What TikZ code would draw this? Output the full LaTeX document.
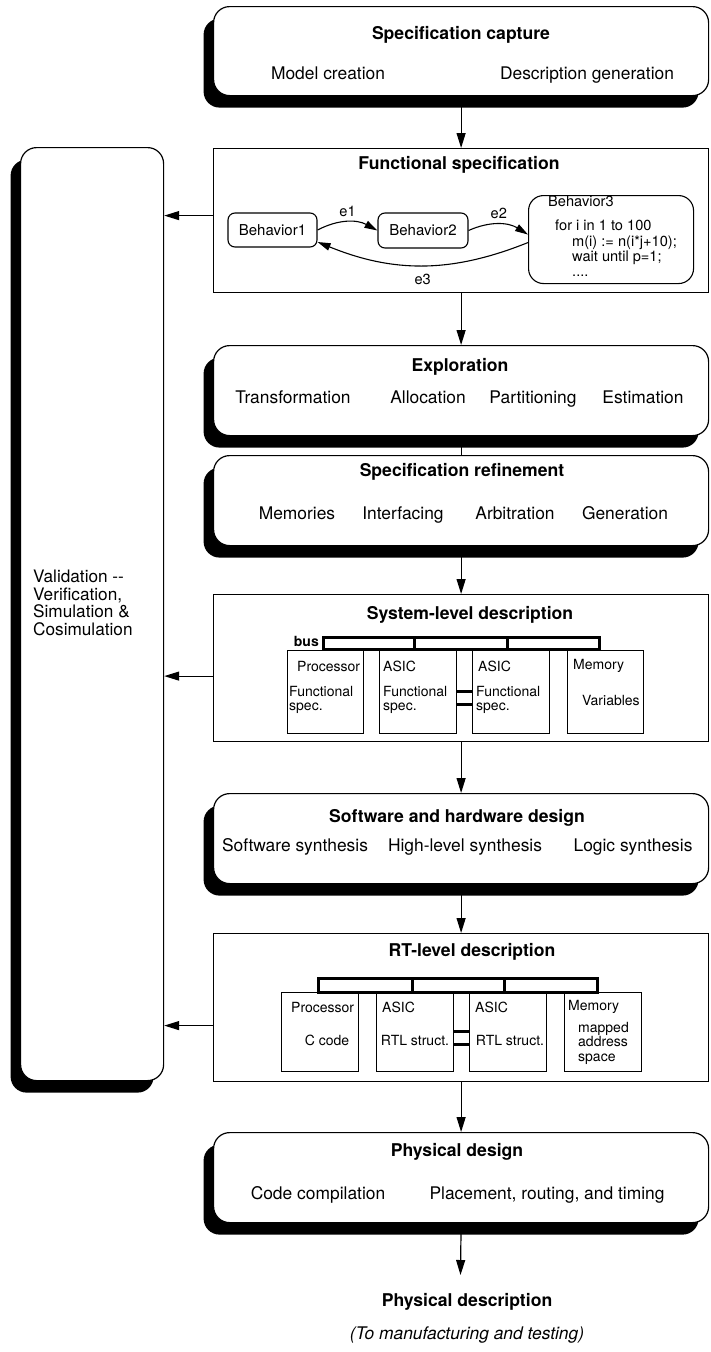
\documentclass[tikz,border=0pt]{standalone}
\usepackage{fontspec}
\setmainfont{TeX Gyre Heros}
\usetikzlibrary{arrows.meta,shadows,calc,positioning}

\tikzset{
  stage/.style={draw, line width=1.2pt, fill=white, rounded corners=16pt, inner sep=0pt,
    anchor=north west, minimum width=495pt, minimum height=90pt,
    drop shadow={shadow xshift=-10pt, shadow yshift=-12pt, fill=black, opacity=1}},
  level/.style={draw, line width=1.2pt, inner sep=0pt, anchor=north west, minimum width=495pt},
  unit/.style={draw, line width=0.9pt, inner sep=0pt, anchor=north west, minimum width=77pt},
  behav/.style={draw, line width=1.1pt, rounded corners=7pt, inner sep=0pt, font=\fontsize{15}{15.5}\selectfont},
  head/.style={font=\fontsize{17.6}{20}\selectfont\bfseries, inner sep=0pt, text height=12.7pt, text depth=3.7pt},
  task/.style={font=\fontsize{17.4}{20}\selectfont, inner sep=0pt, text height=12.5pt, text depth=3.6pt},
  small/.style={font=\fontsize{14}{14.5}\selectfont, inner sep=0pt, anchor=west, align=left},
  code/.style={font=\fontsize{14.6}{15}\selectfont, inner sep=0pt, anchor=west, text height=10.5pt, text depth=3pt},
  flow/.style={line width=1.2pt, -{Triangle[length=15pt,width=9pt]}},
  cue/.style={line width=1.1pt, -{Triangle[length=13pt,width=7.5pt]}},
  bus/.style={line width=3pt},
}

\begin{document}
\begin{tikzpicture}[x=1pt, y=-1pt]
\useasboundingbox (0,0) rectangle (711,1352);

% validation column
\node[stage, minimum width=143pt, minimum height=933pt] (valid) at (20,147) {};
\node[anchor=west, align=left, inner sep=0pt, font=\fontsize{17.2}{17.5}\selectfont] (validT) at (33,603) {Validation -{}-\\Verification,\\Simulation \&\\Cosimulation};

% specification capture
\node[stage, minimum height=89pt] (capture) at (213,6) {};
\node[head] (captureT) at (461,35) {Specification capture};
\node[task] (capture1) at (328,75) {Model creation};
\node[task] (capture2) at (587,75) {Description generation};

% functional specification
\node[level, minimum height=144pt] (fspec) at (213,148) {};
\node[head] (fspecT) at (459,165) {Functional specification};
\node[behav, minimum width=89pt, minimum height=34pt] (beh1) at (272.5,230) {Behavior1};
\node[behav, minimum width=90pt, minimum height=35pt] (beh2) at (423,230.5) {Behavior2};
\node[behav, rounded corners=15pt, minimum width=165pt, minimum height=88pt, anchor=north west] (beh3) at (528,195) {};
\node[code] (beh3T) at (548,203) {Behavior3};
\foreach \t/\x/\y [count=\i] in {{for i in 1 to 100}/555/227, {m(i) := n(i*j+10);}/572/243, {wait until p=1;}/572/258}
  \node[code] (beh3L\i) at (\x,\y) {\t};
\node[code] (beh3L4) at (572,273) {....};
\draw[cue] (beh1.east) to[bend left=28] node[code, anchor=south, inner sep=2pt] (e1) {e1} (beh2.west);
\draw[cue] (beh2.east) to[bend left=28] node[code, anchor=south, inner sep=2pt] (e2) {e2} ([yshift=5pt]beh3.west);
\draw[cue] ([yshift=-3pt]beh3.west) to[bend left=22] node[code, anchor=north, inner sep=8pt] (e3) {e3} ([yshift=-12pt]beh1.east);

% exploration
\node[stage] (explore) at (213,345) {};
\node[head] (exploreT) at (460,367) {Exploration};
\foreach \t/\x [count=\i] in {Transformation/293, Allocation/428, Partitioning/533, Estimation/643}
  \node[task] (explore\i) at (\x,399) {\t};

% specification refinement
\node[stage] (refine) at (213,455) {};
\node[head] (refineT) at (462,472) {Specification refinement};
\foreach \t/\x [count=\i] in {Memories/297, Interfacing/403, Arbitration/515, Generation/625}
  \node[task] (refine\i) at (\x,515) {\t};

% system-level description
\node[level, minimum height=147pt] (syslevel) at (213,594) {};
\node[head] (syslevelT) at (470,615) {System-level description};
\node[small, font=\fontsize{14}{14.5}\selectfont\bfseries, anchor=east] (busL) at (319,641) {bus};
\foreach \a/\b in {323/414, 414/507, 507/599} \draw[bus] (\a,637) rectangle (\b,649);
\node[unit, minimum width=76pt, minimum height=83pt] (sysP) at (287,650) {};
\node[unit, minimum height=83pt] (sysA) at (379,650) {};
\node[unit, minimum height=83pt] (sysB) at (472,650) {};
\node[unit, minimum width=76pt, minimum height=83pt] (sysM) at (567,650) {};
\node[small] (sysP1) at (297,666) {Processor};
\node[small] (sysP2) at (289,700) {Functional\\spec.};
\node[small] (sysA1) at (383,666) {ASIC};
\node[small] (sysA2) at (383,700) {Functional\\spec.};
\node[small] (sysB1) at (478,666) {ASIC};
\node[small] (sysB2) at (476,700) {Functional\\spec.};
\node[small] (sysM1) at (573,666) {Memory};
\node[small] (sysM2) at (582,700) {Variables};
\draw[bus] ($(sysA.north east)+(0,41)$) -- ($(sysB.north west)+(0,41)$);
\draw[bus] ($(sysA.north east)+(0,54)$) -- ($(sysB.north west)+(0,54)$);

% software and hardware design
\node[stage] (design) at (213,793) {};
\node[head] (designT) at (457,818) {Software and hardware design};
\foreach \t/\x [count=\i] in {Software synthesis/295, High-level synthesis/465, Logic synthesis/633}
  \node[task] (design\i) at (\x,847) {\t};

% RT-level description
\node[level, minimum height=148pt] (rtlevel) at (213,933) {};
\node[head] (rtlevelT) at (472,952) {RT-level description};
\foreach \a/\b in {318/412, 412/504, 504/597} \draw[bus] (\a,978) rectangle (\b,992);
\node[unit, minimum height=79pt] (rtP) at (281,992) {};
\node[unit, minimum height=79pt] (rtA) at (376,992) {};
\node[unit, minimum height=79pt] (rtB) at (469,992) {};
\node[unit, minimum height=79pt] (rtM) at (564,992) {};
\node[small] (rtP1) at (291,1007) {Processor};
\node[small, anchor=center] (rtP2) at (327,1040) {C code};
\node[small] (rtA1) at (382,1007) {ASIC};
\node[small, anchor=center] (rtA2) at (415,1040) {RTL struct.};
\node[small] (rtB1) at (475,1007) {ASIC};
\node[small, anchor=center] (rtB2) at (510,1040) {RTL struct.};
\node[small] (rtM1) at (568,1007) {Memory};
\node[small] (rtM2) at (578,1043) {mapped\\address\\space};
\draw[bus] ($(rtA.north east)+(0,39)$) -- ($(rtB.north west)+(0,39)$);
\draw[bus] ($(rtA.north east)+(0,52)$) -- ($(rtB.north west)+(0,52)$);

% physical design
\node[stage] (phys) at (213,1132) {};
\node[head] (physT) at (457,1152) {Physical design};
\foreach \t/\x [count=\i] in {Code compilation/318, {Placement, routing, and timing}/547}
  \node[task] (phys\i) at (\x,1195) {\t};
\coordinate (out) at (460.5,1275);
\node[head] (physdesc) at (467,1302) {Physical description};
\node[task, font=\fontsize{17.4}{20}\selectfont\itshape] (physnote) at (467,1335) {(To manufacturing and testing)};

% main flow
\draw[flow] (capture.south) -- (fspec.north);
\draw[flow] (fspec.south) -- (explore.north);
\draw[line width=1.2pt] (explore.south) -- (refine.north);
\draw[flow] (refine.south) -- (syslevel.north);
\draw[flow] (syslevel.south) -- (design.north);
\draw[flow] (design.south) -- (rtlevel.north);
\draw[flow] (rtlevel.south) -- (phys.north);
\draw[flow] (phys.south) -- (out);

% back to validation
\coordinate (lfspec) at ([yshift=5pt]fspec.west);
\coordinate (lsyslevel) at ([yshift=-8pt]syslevel.west);
\coordinate (lrtlevel) at ([yshift=-18pt]rtlevel.west);
\foreach \s in {fspec, syslevel, rtlevel}
  \draw[flow] (l\s) -- (valid.east |- l\s);
\end{tikzpicture}
\end{document}
